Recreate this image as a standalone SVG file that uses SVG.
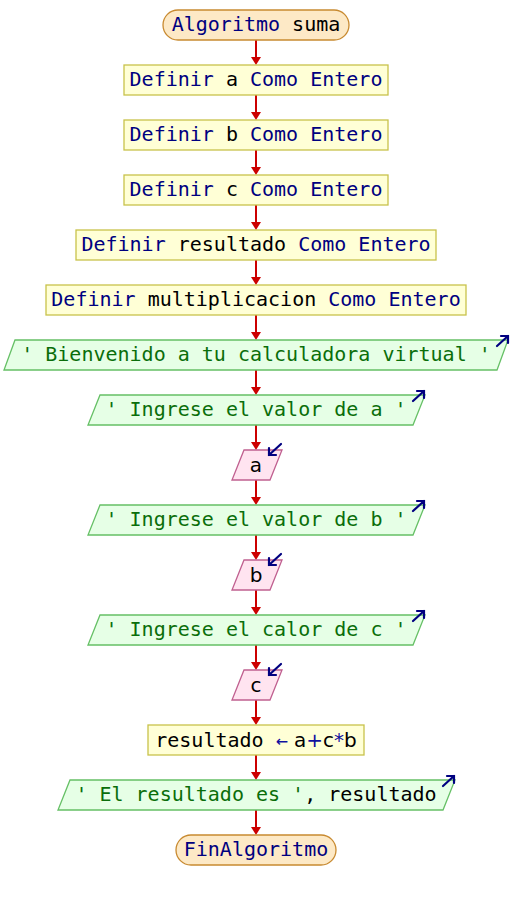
<svg xmlns="http://www.w3.org/2000/svg" width="512" height="900" viewBox="0 0 512 900">
<style>
text{font-family:"DejaVu Sans Mono","Liberation Mono",monospace;font-size:20px;text-anchor:middle}
.sans{font-family:"DejaVu Sans","Liberation Sans",sans-serif}
.term{fill:#fde9c6;stroke:#c88a30;stroke-width:1.3}
.proc{fill:#ffffd6;stroke:#c8c24a;stroke-width:1.3}
.out{fill:#e6ffe6;stroke:#66c066;stroke-width:1.3}
.in{fill:#ffe4f0;stroke:#c06090;stroke-width:1.3}
.kw{fill:#000080}
.v{fill:#000000}
.s{fill:#0a6e0a}
.op{fill:#1010a0}
.conn line{stroke:#cc0000;stroke-width:2}
.conn path{fill:#cc0000}
.io{stroke:#000080;stroke-width:2.2;fill:none;stroke-linecap:round}
</style>
<rect width="512" height="900" fill="#ffffff"/>
<g class="conn">
<line x1="256" y1="40" x2="256" y2="58"/><path d="M251,57 L261,57 L256,65 Z"/>
<line x1="256" y1="95" x2="256" y2="113"/><path d="M251,112 L261,112 L256,120 Z"/>
<line x1="256" y1="150" x2="256" y2="168"/><path d="M251,167 L261,167 L256,175 Z"/>
<line x1="256" y1="205" x2="256" y2="223"/><path d="M251,222 L261,222 L256,230 Z"/>
<line x1="256" y1="260" x2="256" y2="278"/><path d="M251,277 L261,277 L256,285 Z"/>
<line x1="256" y1="315" x2="256" y2="333"/><path d="M251,332 L261,332 L256,340 Z"/>
<line x1="256" y1="370" x2="256" y2="388"/><path d="M251,387 L261,387 L256,395 Z"/>
<line x1="256" y1="425" x2="256" y2="443"/><path d="M251,442 L261,442 L256,450 Z"/>
<line x1="256" y1="480" x2="256" y2="498"/><path d="M251,497 L261,497 L256,505 Z"/>
<line x1="256" y1="535" x2="256" y2="553"/><path d="M251,552 L261,552 L256,560 Z"/>
<line x1="256" y1="590" x2="256" y2="608"/><path d="M251,607 L261,607 L256,615 Z"/>
<line x1="256" y1="645" x2="256" y2="663"/><path d="M251,662 L261,662 L256,670 Z"/>
<line x1="256" y1="700" x2="256" y2="718"/><path d="M251,717 L261,717 L256,725 Z"/>
<line x1="256" y1="755" x2="256" y2="773"/><path d="M251,772 L261,772 L256,780 Z"/>
<line x1="256" y1="810" x2="256" y2="828"/><path d="M251,827 L261,827 L256,835 Z"/>
</g>
<g id="start">
<rect class="term" x="163" y="10" width="186" height="30" rx="15" ry="15"/>
<text x="256" y="31"><tspan class="kw">Algoritmo</tspan><tspan class="v"> suma</tspan></text>
</g>
<g id="def_a">
<rect class="proc" x="124" y="65" width="264" height="30"/>
<text x="256" y="86"><tspan class="kw">Definir</tspan><tspan class="v"> a </tspan><tspan class="kw">Como Entero</tspan></text>
</g>
<g id="def_b">
<rect class="proc" x="124" y="120" width="264" height="30"/>
<text x="256" y="141"><tspan class="kw">Definir</tspan><tspan class="v"> b </tspan><tspan class="kw">Como Entero</tspan></text>
</g>
<g id="def_c">
<rect class="proc" x="124" y="175" width="264" height="30"/>
<text x="256" y="196"><tspan class="kw">Definir</tspan><tspan class="v"> c </tspan><tspan class="kw">Como Entero</tspan></text>
</g>
<g id="def_resultado">
<rect class="proc" x="76" y="230" width="360" height="30"/>
<text x="256" y="251"><tspan class="kw">Definir</tspan><tspan class="v"> resultado </tspan><tspan class="kw">Como Entero</tspan></text>
</g>
<g id="def_mult">
<rect class="proc" x="46" y="285" width="420" height="30"/>
<text x="256" y="306"><tspan class="kw">Definir</tspan><tspan class="v"> multiplicacion </tspan><tspan class="kw">Como Entero</tspan></text>
</g>
<g id="out_bienvenido">
<polygon class="out" points="15,340 508,340 497,370 4,370"/>
<text x="256" y="361" class="s">' Bienvenido a tu calculadora virtual '</text>
<path class="io" d="M497,346 L508,336 M501,336 L508,336 L508,343"/>
</g>
<g id="out_a">
<polygon class="out" points="100,395 425,395 413,425 88,425"/>
<text x="256" y="416" class="s">' Ingrese el valor de a '</text>
<path class="io" d="M413,401 L424,391 M417,391 L424,391 L424,398"/>
</g>
<g id="in_a">
<polygon class="in" points="244,450 282,450 270,480 232,480"/>
<text x="256" y="472" class="sans v">a</text>
<path class="io" d="M281,444 L269,455 M269,448 L269,455 L276,455"/>
</g>
<g id="out_b">
<polygon class="out" points="100,505 425,505 413,535 88,535"/>
<text x="256" y="526" class="s">' Ingrese el valor de b '</text>
<path class="io" d="M413,511 L424,501 M417,501 L424,501 L424,508"/>
</g>
<g id="in_b">
<polygon class="in" points="244,560 282,560 270,590 232,590"/>
<text x="256" y="582" class="sans v">b</text>
<path class="io" d="M281,554 L269,565 M269,558 L269,565 L276,565"/>
</g>
<g id="out_c">
<polygon class="out" points="100,615 425,615 413,645 88,645"/>
<text x="256" y="636" class="s">' Ingrese el calor de c '</text>
<path class="io" d="M413,621 L424,611 M417,611 L424,611 L424,618"/>
</g>
<g id="in_c">
<polygon class="in" points="244,670 282,670 270,700 232,700"/>
<text x="256" y="692" class="sans v">c</text>
<path class="io" d="M281,664 L269,675 M269,668 L269,675 L276,675"/>
</g>
<g id="assign">
<rect class="proc" x="148" y="725" width="216" height="30"/>
<text x="256" y="747"><tspan class="v">resultado </tspan><tspan class="op">←</tspan><tspan class="v sans"> a</tspan><tspan class="op sans">+</tspan><tspan class="v sans">c</tspan><tspan class="op sans">*</tspan><tspan class="v sans">b</tspan></text>
</g>
<g id="out_resultado">
<polygon class="out" points="70,780 455,780 443,810 58,810"/>
<text x="256" y="801"><tspan class="s">' El resultado es '</tspan><tspan class="v">, resultado</tspan></text>
<path class="io" d="M443,786 L454,776 M447,776 L454,776 L454,783"/>
</g>
<g id="end">
<rect class="term" x="176" y="835" width="160" height="30" rx="15" ry="15"/>
<text x="256" y="856" class="kw">FinAlgoritmo</text>
</g>
</svg>
